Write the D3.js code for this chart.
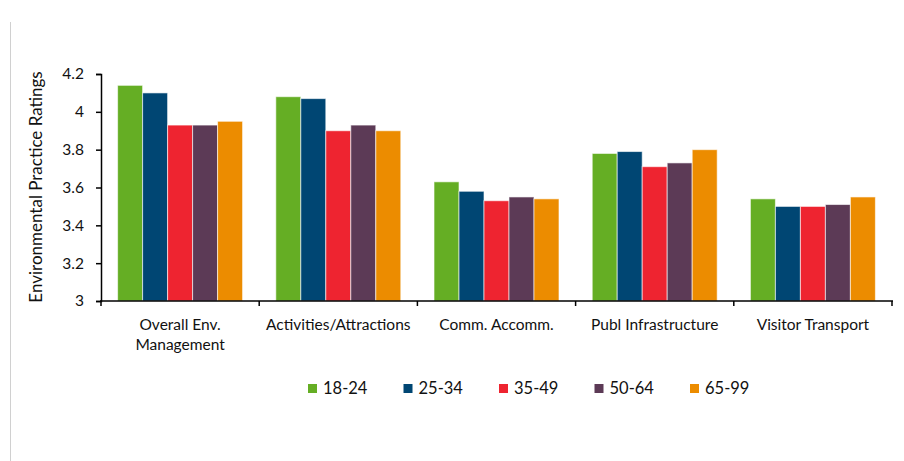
<!DOCTYPE html>
<html>
<head>
<meta charset="utf-8">
<style>
  body { margin: 0; background: #fff; }
  svg { font-family: Lato, "Open Sans", sans-serif; }
</style>
</head>
<body>
<div id="chart"></div>
<script src="https://d3js.org/d3.v7.min.js"></script>
<script>
    // chart data
    var categories = ["Overall Env. Management", "Activities/Attractions", "Comm. Accomm.", "Publ Infrastructure", "Visitor Transport"];
    var series = ["18-24", "25-34", "35-49", "50-64", "65-99"];
    var s18_24 = [4.14, 4.08, 3.63, 3.78, 3.54];
    var s25_34 = [4.10, 4.07, 3.58, 3.79, 3.50];
    var s35_49 = [3.93, 3.90, 3.53, 3.71, 3.50];
    var s50_64 = [3.93, 3.93, 3.55, 3.73, 3.51];
    var s65_99 = [3.95, 3.90, 3.54, 3.80, 3.55];
    var yTicks = [3, 3.2, 3.4, 3.6, 3.8, 4, 4.2];
    var colors = ["#65ae24", "#004673", "#ee2430", "#5c3a56", "#ec8c00"];

    var values = [s18_24, s25_34, s35_49, s50_64, s65_99];

    var width = 904, height = 461;
    var svg = d3.select("#chart").append("svg")
        .attr("width", width)
        .attr("height", height);

    // faint frame line on the left
    svg.append("line")
        .attr("x1", 10.5).attr("x2", 10.5)
        .attr("y1", 22).attr("y2", height)
        .attr("stroke", "#d0d0d0");

    var x = d3.scaleBand()
        .domain(categories)
        .range([101, 892])
        .paddingInner(0.21)
        .paddingOuter(0.105);

    var xs = d3.scaleBand()
        .domain(series)
        .range([0, x.bandwidth()]);

    var y = d3.scaleLinear()
        .domain([3, 4.2])
        .range([301, 74]);

    // bars
    var groups = svg.selectAll("g.cat")
        .data(categories)
        .enter().append("g")
        .attr("class", "cat")
        .attr("transform", function(d) { return "translate(" + x(d) + ",0)"; });

    groups.selectAll("rect")
        .data(function(d, i) {
            return series.map(function(s, j) { return {s: s, v: values[j][i], c: colors[j]}; });
        })
        .enter().append("rect")
        .attr("x", function(d) { return xs(d.s); })
        .attr("width", xs.bandwidth())
        .attr("y", function(d) { return y(d.v); })
        .attr("height", function(d) { return y(3) - y(d.v); })
        .attr("fill", function(d) { return d.c; })
        .attr("stroke", "#fff")
        .attr("stroke-opacity", 0.6)
        .attr("stroke-width", 1);

    // y axis
    var yAxis = svg.append("g")
        .attr("transform", "translate(101,0)")
        .call(d3.axisLeft(y).tickValues(yTicks).tickSize(5).tickPadding(12).tickFormat(d3.format("~g")));
    yAxis.select(".domain").attr("stroke", "#000").attr("stroke-width", 1.5);
    yAxis.selectAll(".tick line").attr("stroke", "#000").attr("stroke-width", 1.5);
    yAxis.selectAll("text").attr("font-size", 15.5).attr("fill", "#111").attr("font-family", "Lato, sans-serif");

    // x axis line with ticks at category boundaries
    svg.append("line")
        .attr("x1", 100).attr("x2", 893)
        .attr("y1", y(3)).attr("y2", y(3))
        .attr("stroke", "#000").attr("stroke-width", 1.5);

    var step = x.step();
    var bounds = categories.map(function(c) { return x(c) - step * x.paddingInner() / 2; });
    bounds[0] = x.range()[0];
    bounds.push(x.range()[1]);
    svg.selectAll("line.xtick")
        .data(bounds)
        .enter().append("line")
        .attr("class", "xtick")
        .attr("x1", function(d) { return d; }).attr("x2", function(d) { return d; })
        .attr("y1", y(3)).attr("y2", y(3) + 5)
        .attr("stroke", "#000").attr("stroke-width", 1.5);

    // category labels (wrapped like the original)
    var labelLines = {
        "Overall Env. Management": ["Overall Env.", "Management"]
    };
    svg.selectAll("text.cat")
        .data(categories)
        .enter().append("text")
        .attr("class", "cat")
        .attr("text-anchor", "middle")
        .attr("font-size", 15.5)
        .attr("fill", "#111")
        .each(function(d) {
            var lines = labelLines[d] || [d];
            var t = d3.select(this);
            lines.forEach(function(l, i) {
                t.append("tspan")
                    .attr("x", x(d) + x.bandwidth() / 2)
                    .attr("y", 330 + i * 20)
                    .text(l);
            });
        });

    // y axis title
    svg.append("text")
        .attr("transform", "translate(42,187) rotate(-90)")
        .attr("text-anchor", "middle")
        .attr("font-size", 17)
        .attr("fill", "#111")
        .text("Environmental Practice Ratings");

    // legend
    var legend = svg.selectAll("g.legend")
        .data(series)
        .enter().append("g")
        .attr("class", "legend")
        .attr("transform", function(d, i) { return "translate(" + (308 + i * 95.5) + ",384)"; });

    legend.append("rect")
        .attr("width", 9)
        .attr("height", 9)
        .attr("fill", function(d, i) { return colors[i]; });

    legend.append("text")
        .attr("x", 15)
        .attr("y", 9.5)
        .attr("font-size", 16.5)
        .attr("fill", "#111")
        .text(function(d) { return d; });
</script>
</body>
</html>
